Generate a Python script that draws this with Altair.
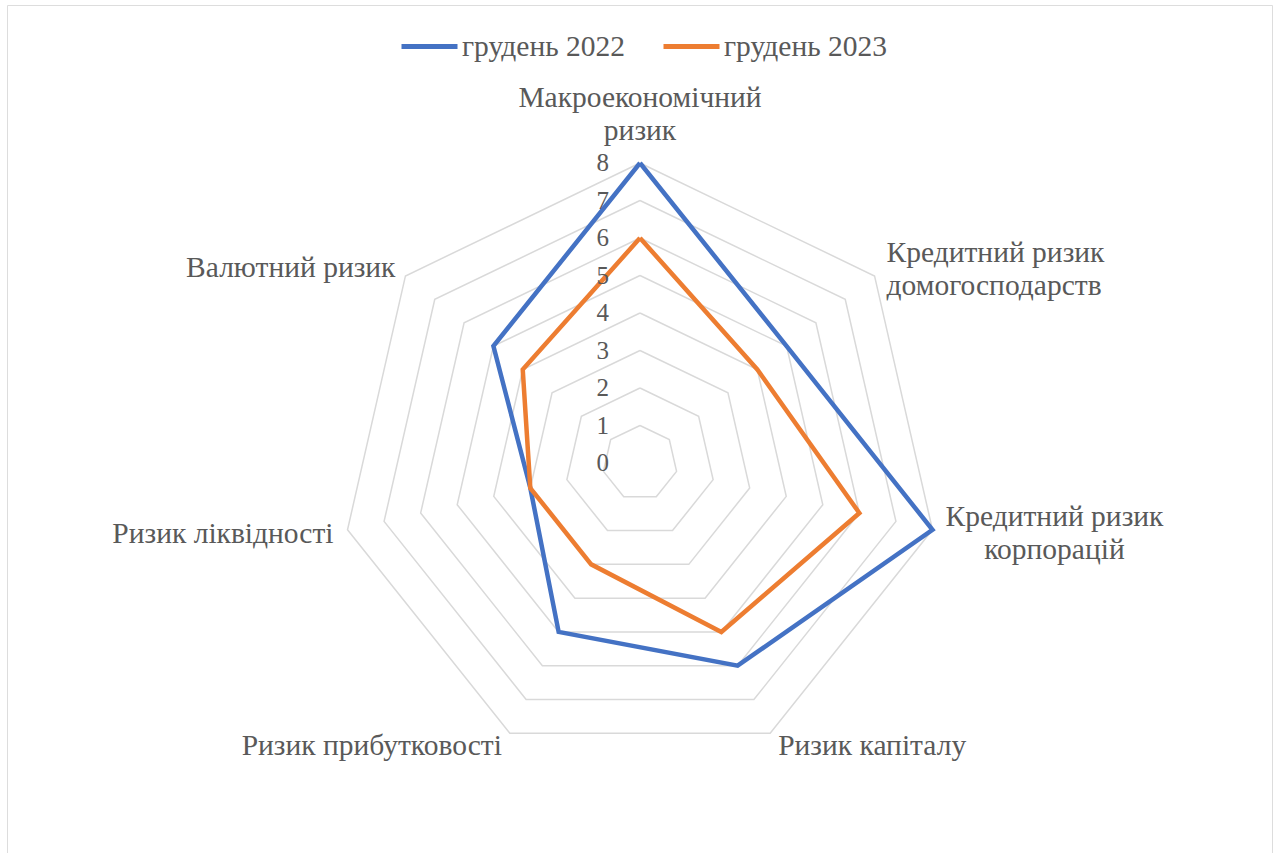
import altair as alt
import pandas as pd

# ---- data ----
categories = [
    "Макроекономічний ризик",
    "Кредитний ризик домогосподарств",
    "Кредитний ризик корпорацій",
    "Ризик капіталу",
    "Ризик прибутковості",
    "Ризик ліквідності",
    "Валютний ризик",
]
category_labels = [
    "Макроекономічний\nризик",
    "Кредитний ризик\nдомогосподарств",
    "Кредитний ризик\nкорпорацій",
    "Ризик капіталу",
    "Ризик прибутковості",
    "Ризик ліквідності",
    "Валютний ризик",
]
series_names = ["грудень 2022", "грудень 2023"]
values_2022 = [8, 5, 8, 6, 5, 3, 5]
values_2023 = [6, 4, 6, 5, 3, 3, 4]
grid_levels = [1, 2, 3, 4, 5, 6, 7, 8]
tick_labels = [0, 1, 2, 3, 4, 5, 6, 7, 8]
AXIS_MAX = 8

# ---- styles ----
FONT = "Liberation Serif"
TEXT_COLOR = "#595959"
GRID_COLOR = "#D9D9D9"
COLORS = ["#4472C4", "#ED7D31"]
LABEL_SIZE = 29.5
# per-label placement style: (align, dx, dy)
label_style = [
    ("center", 0, -56),
    ("left", 12, -14),
    ("center", 122, -4),
    ("left", 8, 22),
    ("right", -8, 22),
    ("right", -14, 13),
    ("right", -10, 1),
]

N = len(categories)
PAD_L, PAD_T, PAD_R, PAD_B = 7, 5, 5, 0
W, H = 1277 - PAD_L - PAD_R, 853 - PAD_T - PAD_B
UNIT = 37.5
CX, CY = 640 - PAD_L, 463 - PAD_T
xdom = [-CX / UNIT, (W - CX) / UNIT]
ydom = [(CY - H) / UNIT, CY / UNIT]

xs = alt.Scale(domain=xdom, nice=False, zero=False)
ys = alt.Scale(domain=ydom, nice=False, zero=False)

# ---- tables ----
rows = []
for name, vals in zip(series_names, [values_2022, values_2023]):
    for k in range(N + 1):
        rows.append({"series": name, "idx": k, "cat": categories[k % N], "value": vals[k % N]})
series_df = pd.DataFrame(rows)

grid_df = pd.DataFrame([{"level": lv, "idx": k} for lv in grid_levels for k in range(N + 1)])
tick_df = pd.DataFrame({"level": tick_labels})
label_df = pd.DataFrame({"idx": list(range(N)), "label": category_labels, "r": [AXIS_MAX] * N})

ang = f"datum.idx * 2 * PI / {N}"

grid = alt.Chart(grid_df).transform_calculate(
    x=f"datum.level * sin({ang})", y=f"datum.level * cos({ang})"
).mark_line(stroke=GRID_COLOR, strokeWidth=1.5).encode(
    x=alt.X("x:Q", scale=xs, axis=None),
    y=alt.Y("y:Q", scale=ys, axis=None),
    detail="level:N",
    order="idx:Q",
)

lines = alt.Chart(series_df).transform_calculate(
    x=f"datum.value * sin({ang})", y=f"datum.value * cos({ang})"
).mark_line(strokeWidth=4.5).encode(
    x=alt.X("x:Q", scale=xs, axis=None),
    y=alt.Y("y:Q", scale=ys, axis=None),
    color=alt.Color(
        "series:N",
        scale=alt.Scale(domain=series_names, range=COLORS),
        legend=alt.Legend(
            orient="none",
            legendX=392,
            legendY=11,
            direction="horizontal",
            title=None,
            symbolType="stroke",
            symbolSize=3136,
            symbolStrokeWidth=5,
            labelFont=FONT,
            labelFontSize=LABEL_SIZE,
            labelColor=TEXT_COLOR,
            labelOffset=2,
            labelLimit=400,
            columnPadding=27,
            padding=0,
        ),
    ),
    order="idx:Q",
)

ticks = alt.Chart(tick_df).mark_text(
    align="right", baseline="middle", dx=-31, font=FONT, fontSize=25, color=TEXT_COLOR
).encode(
    x=alt.X("zero:Q", scale=xs, axis=None),
    y=alt.Y("level:Q", scale=ys, axis=None),
    text="level:N",
).transform_calculate(zero="0")

label_layers = []
for i, (al, dx, dy) in enumerate(label_style):
    label_layers.append(
        alt.Chart(label_df).transform_filter(f"datum.idx == {i}").transform_calculate(
            x=f"datum.r * sin({ang})", y=f"datum.r * cos({ang})"
        ).mark_text(
            align=al, baseline="alphabetic", dx=dx, dy=dy, lineBreak="\n", lineHeight=33,
            font=FONT, fontSize=LABEL_SIZE, color=TEXT_COLOR
        ).encode(
            x=alt.X("x:Q", scale=xs, axis=None),
            y=alt.Y("y:Q", scale=ys, axis=None),
            text="label:N",
        )
    )

chart = alt.layer(grid, lines, ticks, *label_layers).properties(
    width=W,
    height=H,
    padding={"left": PAD_L, "top": PAD_T, "right": PAD_R, "bottom": PAD_B},
    autosize=alt.AutoSizeParams(type="none"),
).configure_view(stroke=GRID_COLOR, strokeWidth=2).configure(background="white")

chart.save("out.html", embed_options={"renderer": "svg", "actions": False})
